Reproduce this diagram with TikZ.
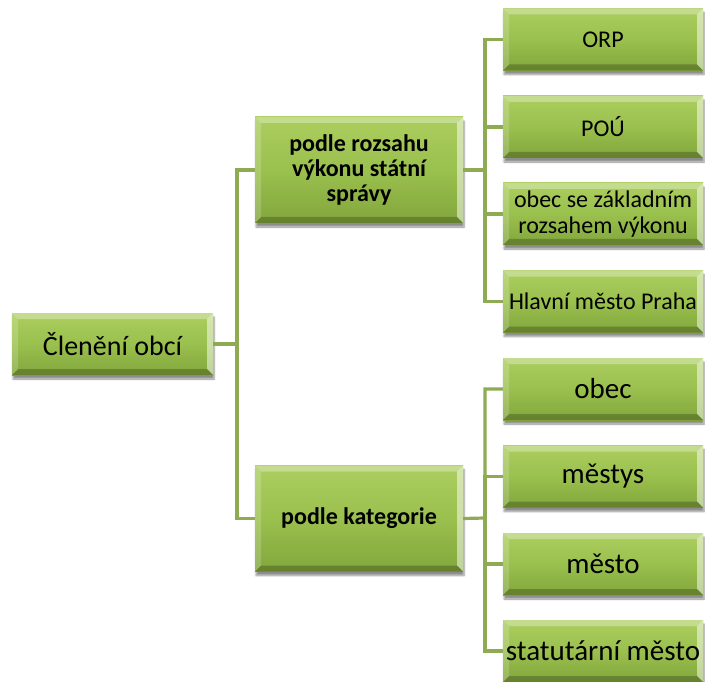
\documentclass[tikz,border=0pt]{standalone}
\usepackage{fontspec}
\setmainfont{Carlito}
\usetikzlibrary{shadows.blur}
\definecolor{gLight}{RGB}{172,206,96}
\definecolor{gMid}{RGB}{154,192,78}
\definecolor{gDark}{RGB}{130,166,60}
\definecolor{connc}{RGB}{142,170,82}
\tikzset{
  box/.style={
    inner sep=0pt, align=center, text=black,
    top color=gLight, bottom color=gDark, middle color=gMid,
    blur shadow={shadow xshift=1pt, shadow yshift=-4pt, shadow blur steps=6, shadow opacity=45},
    path picture={
      \fill[white,opacity=.30] (path picture bounding box.north west) -- (path picture bounding box.north east)
        -- ([shift={(-6pt,-6pt)}]path picture bounding box.north east) -- ([shift={(6pt,-6pt)}]path picture bounding box.north west) -- cycle;
      \fill[white,opacity=.18] (path picture bounding box.north west) -- (path picture bounding box.south west)
        -- ([shift={(6pt,6pt)}]path picture bounding box.south west) -- ([shift={(6pt,-6pt)}]path picture bounding box.north west) -- cycle;
      \fill[white,opacity=.5] (path picture bounding box.north east) -- (path picture bounding box.south east)
        -- ([shift={(-6pt,6pt)}]path picture bounding box.south east) -- ([shift={(-6pt,-6pt)}]path picture bounding box.north east) -- cycle;
      \fill[black,opacity=.22] (path picture bounding box.south west) -- (path picture bounding box.south east)
        -- ([shift={(-6pt,6pt)}]path picture bounding box.south east) -- ([shift={(6pt,6pt)}]path picture bounding box.south west) -- cycle;
    }
  },
  rootbox/.style={box, minimum width=201pt, minimum height=62pt, font=\fontsize{28}{30}\selectfont},
  midbox/.style={box, minimum width=208pt, minimum height=106pt, font=\bfseries\fontsize{24}{25}\selectfont},
  leafA/.style={box, minimum width=200pt, minimum height=62pt, font=\fontsize{24}{26}\selectfont},
  leafB/.style={box, minimum width=200pt, minimum height=62pt, font=\fontsize{29}{31}\selectfont},
  link/.style={draw=connc, line width=3.2pt}
}
\begin{document}
\begin{tikzpicture}[x=1pt,y=-1pt]
\useasboundingbox (0,0) rectangle (705,682);
\coordinate (b0) at (237,344);
\coordinate (b1) at (485,170);
\coordinate (b2) at (485,518);
\node[rootbox] (root) at (112.5,344) {Členění obcí};
\node[midbox] (m1) at (359,170) {podle rozsahu\\výkonu státní\\správy};
\node[midbox] (m2) at (359,518.5) {podle kategorie};
\node[leafA] (l1) at (603,39.5) {ORP};
\node[leafA] (l2) at (603,127) {POÚ};
\node[leafA] (l3) at (603,214) {obec se základním\\rozsahem výkonu};
\node[leafA] (l4) at (603,301.5) {Hlavní město Praha};
\node[leafB] (l5) at (603,389) {obec};
\node[leafB] (l6) at (603,476.5) {městys};
\node[leafB] (l7) at (603,564) {město};
\node[leafB] (l8) at (603,651) {statutární město};
\draw[link] (root.east) -- (b0) |- (m1.west);
\draw[link] (b0) |- (m2.west);
\draw[link] (m1.east) -- (b1) |- (l1.west);
\draw[link] (b1) |- (l2.west);
\draw[link] (b1) |- (l3.west);
\draw[link] (b1) |- (l4.west);
\draw[link] (m2.east) -- (b2) |- (l5.west);
\draw[link] (b2) |- (l6.west);
\draw[link] (b2) |- (l7.west);
\draw[link] (b2) |- (l8.west);
\end{tikzpicture}
\end{document}
